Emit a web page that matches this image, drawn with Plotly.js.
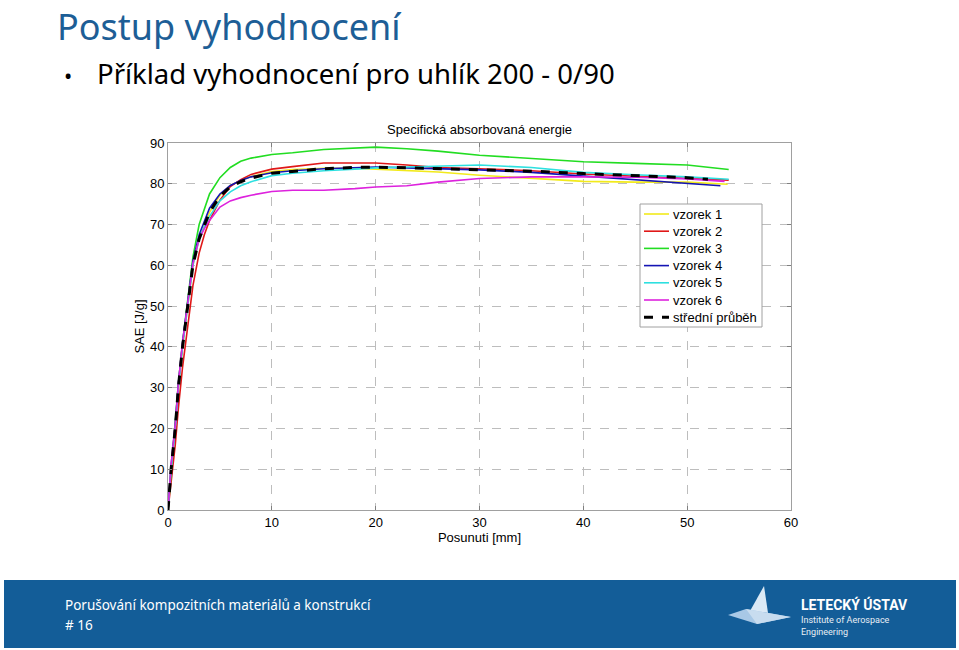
<!DOCTYPE html>
<html>
<head>
<meta charset="utf-8">
<script src="https://cdn.plot.ly/plotly-3.0.1.min.js"></script>
<style>
html,body{margin:0;padding:0;background:#fff;}
#chart{width:959px;height:650px;}
</style>
</head>
<body>
<div id="chart"></div>
<script>
// ---- data ----
const seriesNames = ["vzorek 1","vzorek 2","vzorek 3","vzorek 4","vzorek 5","vzorek 6","střední průběh"];
const xCommon = [0,0.3,0.7,1.0,1.4,1.9,2.4,3.0,3.5,4,5,6,7,8,10,12,15,18,20,23,26,30,35,40,45,50];
const xV1 = xCommon.concat([53.9]);
const xV2 = xCommon.concat([54]);
const xV3 = xCommon.concat([54]);
const xV4 = xCommon.concat([53.2]);
const xV5 = xCommon.concat([54]);
const xV6 = xCommon.concat([53.6]);
const xMean = xCommon.concat([52]);
const yV1 = [0,10,20,30,40,50,60,66.5,70,73,77.2,79.6,80.8,81.8,83.0,83.5,83.8,83.8,83.6,83.2,82.9,82.1,81.3,80.6,80.4,80.4,79.9];
const yV2 = [0,7,16,25,35,45,55,63,67.5,71,76,79.3,81,82.3,83.6,84.2,85.1,85.1,85.1,84.6,84.0,83.7,83.2,82.4,81.8,81.3,80.9];
const yV3 = [0,10,21,31,41,52,62,70,74,77.5,81.5,84,85.5,86.3,87.2,87.6,88.4,88.8,89.0,88.6,88.0,87.0,86.2,85.4,85.0,84.6,83.5];
const yV4 = [0,11,21,31,41,51,61,67.5,71,74,77.5,79.6,80.8,81.7,82.7,83.2,83.7,84.0,84.1,83.9,83.7,83.4,82.8,81.9,81.0,80.2,79.5];
const yV5 = [0,10,20,30,40,50,60,66.5,69.5,72,75.8,78,79.5,80.5,82.0,82.6,83.2,83.6,83.9,84.1,84.3,84.6,84.0,82.8,82.2,81.7,81.1];
const yV6 = [0,11,21,31,41,51,60.5,66.5,69,71,74.3,75.8,76.6,77.2,78.1,78.4,78.4,78.8,79.2,79.5,80.4,81.3,81.7,81.7,81.6,81.2,80.6];
const yMean = [0,10,20,30,40,50,60,66.5,70,73,77,79.2,80.5,81.4,82.6,83.1,83.7,84.0,84.1,83.9,83.7,83.6,83.1,82.5,82.0,81.5,81.1];
const xTicks = [0,10,20,30,40,50,60];
const yTicks = [0,10,20,30,40,50,60,70,80,90];

// ---- layout helpers (pixel -> paper) ----
const W = 959, H = 650;
const L = 168, R = 791, T = 143, B = 510;
const px = v => (v - L) / (R - L);
const py = v => (B - v) / (B - T);

const colors = ["#f2ea1c","#e01818","#22dd22","#1414b4","#2ee0e0","#dd22dd","#000000"];
const xs = [xV1,xV2,xV3,xV4,xV5,xV6,xMean];
const ys = [yV1,yV2,yV3,yV4,yV5,yV6,yMean];
const widths = [1.6,1.6,1.6,1.6,1.6,1.6,3];
const dashes = ["solid","solid","solid","solid","solid","solid","dash"];

const traces = seriesNames.map((n,i)=>({
  type:"scatter", mode:"lines", name:n, x:xs[i], y:ys[i],
  line:{color:colors[i], width:widths[i], dash:dashes[i]},
  hoverinfo:"skip", showlegend:false
}));

const blue = "#135d98";
const ann = [
  {text:"Postup vyhodnocení", x:px(55), y:py(0), xanchor:"left", yanchor:"top",
   font:{family:"Noto Sans", size:36, color:"#1d5e96"}},
  {text:"•", x:px(62), y:py(75), xanchor:"left", yanchor:"middle",
   font:{family:"Noto Sans", size:22, color:"#000"}},
  {text:"Příklad vyhodnocení pro uhlík 200 - 0/90", x:px(95), y:py(73), xanchor:"left", yanchor:"middle",
   font:{family:"Noto Sans", size:27.5, color:"#000"}},
  {text:"Specifická absorbovaná energie", x:px(479), y:py(129), xanchor:"center", yanchor:"middle",
   font:{family:"Liberation Sans", size:13, color:"#000"}},
  {text:"Porušování kompozitních materiálů a konstrukcí", x:px(63), y:py(605), xanchor:"left", yanchor:"middle",
   font:{family:"Noto Sans", size:13.5, color:"#fff"}},
  {text:"# 16", x:px(63), y:py(625), xanchor:"left", yanchor:"middle",
   font:{family:"Noto Sans", size:13.5, color:"#fff"}},
  {text:"<b>LETECKÝ ÚSTAV</b>", x:px(799), y:py(604), xanchor:"left", yanchor:"middle",
   font:{family:"Roboto", size:14, color:"#fff"}},
  {text:"Institute of Aerospace", x:px(799), y:py(620), xanchor:"left", yanchor:"middle",
   font:{family:"Roboto", size:9, color:"#e8eef5"}},
  {text:"Engineering", x:px(799), y:py(632), xanchor:"left", yanchor:"middle",
   font:{family:"Roboto", size:9, color:"#e8eef5"}}
].map(a=>Object.assign({xref:"paper", yref:"paper", showarrow:false}, a));

const path = pts => pts.map((p,i)=>(i?"L":"M")+px(p[0]).toFixed(4)+","+py(p[1]).toFixed(4)).join(" ")+" Z";

const shapes = [
  {type:"rect", xref:"paper", yref:"paper", x0:px(4), x1:px(956), y0:py(648), y1:py(580),
   fillcolor:blue, line:{width:0}, layer:"below"},
  {type:"path", xref:"paper", yref:"paper", path:path([[764,586],[750,611],[768,613]]),
   fillcolor:"#dbe9f5", line:{width:0}},
  {type:"path", xref:"paper", yref:"paper", path:path([[728,615],[746,609],[791,617],[757,624]]),
   fillcolor:"#a8c8e6", line:{width:0}},
  {type:"path", xref:"paper", yref:"paper", path:path([[746,609],[768,613],[791,617],[757,624]]),
   fillcolor:"#c8dcef", line:{width:0}}
];

// ---- legend box drawn by hand (tighter row spacing than Plotly's own legend) ----
const legL = 640, legR = 762, legT = 204, legB = 327, legRow0 = 214, legStep = 17.2;
shapes.push({type:"rect", xref:"paper", yref:"paper", x0:px(legL), x1:px(legR), y0:py(legB), y1:py(legT),
  fillcolor:"#fff", line:{color:"#a0a0a0", width:1}});
seriesNames.forEach((n,i)=>{
  const yy = legRow0 + i*legStep;
  shapes.push({type:"line", xref:"paper", yref:"paper", x0:px(644), x1:px(669), y0:py(yy), y1:py(yy),
    line:{color:colors[i], width:widths[i], dash: i===6 ? "dash" : "solid"}});
  ann.push({xref:"paper", yref:"paper", showarrow:false, text:n, x:px(671), y:py(yy),
    xanchor:"left", yanchor:"middle", font:{family:"Liberation Sans", size:13, color:"#000"}});
});

const axisCommon = {
  showgrid:true, gridcolor:"#bdbdbd", griddash:"dash", gridwidth:1,
  showline:true, linecolor:"#a0a0a0", linewidth:1, mirror:"ticks",
  ticks:"inside", ticklen:4, tickcolor:"#808080",
  zeroline:false, tickfont:{family:"Liberation Sans", size:13, color:"#000"}
};

const layout = {
  width:W, height:H,
  margin:{l:L, r:W-R, t:T, b:H-B, pad:0},
  paper_bgcolor:"#fff", plot_bgcolor:"#fff",
  showlegend:false,
  xaxis:Object.assign({}, axisCommon, {range:[0,60], tickvals:xTicks, ticktext:xTicks.map(String),
    title:{text:"Posunuti [mm]", font:{family:"Liberation Sans", size:13, color:"#000"}, standoff:1}}),
  yaxis:Object.assign({}, axisCommon, {range:[0,90], tickvals:yTicks, ticktext:yTicks.map(String),
    title:{text:"SAE [J/g]", font:{family:"Liberation Sans", size:13, color:"#000"}, standoff:2}}),
  annotations:ann, shapes:shapes
};

Plotly.newPlot("chart", traces, layout, {displayModeBar:false, staticPlot:true});
</script>
</body>
</html>
